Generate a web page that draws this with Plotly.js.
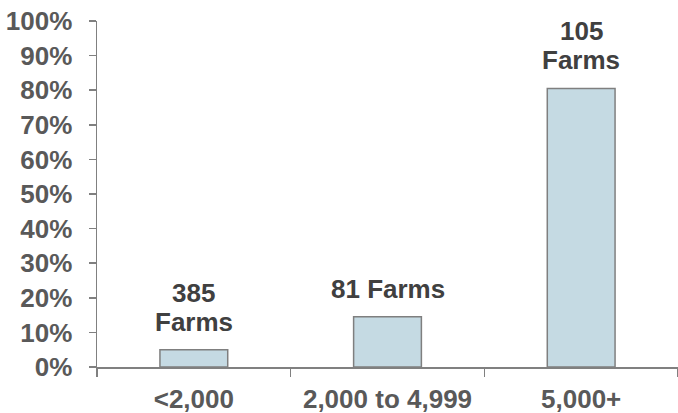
<!DOCTYPE html>
<html>
<head>
<meta charset="utf-8">
<script src="https://cdn.plot.ly/plotly-3.0.1.min.js"></script>
<style>html,body{margin:0;padding:0;background:#fff;}#chart{width:678px;height:413px;}</style>
</head>
<body>
<div id="chart"></div>
<script>
const categories = ["<2,000", "2,000 to 4,999", "5,000+"];
const shares = [0.05, 0.145, 0.805];
const barLabels = ["385<br>Farms", "81 Farms", "105<br>Farms"];
const yTickVals = [0, 0.1, 0.2, 0.3, 0.4, 0.5, 0.6, 0.7, 0.8, 0.9, 1.0];

const font = "Liberation Sans, Arial, sans-serif";
const fs = 26;

const trace = {
  type: "bar",
  x: categories,
  y: shares,
  width: 0.35,
  marker: { color: "#c5dae3", line: { color: "#7f7f7f", width: 1.5 } },
  hoverinfo: "skip"
};

const annotations = [];
categories.forEach((c, i) => {
  const lines = barLabels[i].split("<br>");
  lines.forEach((ln, k) => {
    annotations.push({
      x: c, y: shares[i], xref: "x", yref: "y",
      text: "<b>" + ln + "</b>",
      showarrow: false, yanchor: "bottom",
      yshift: 11 + (lines.length - 1 - k) * 29,
      font: { family: font, size: fs, color: "#404040" }
    });
  });
});

const layout = {
  width: 678, height: 413,
  margin: { l: 97, r: 0, t: 21, b: 46 },
  paper_bgcolor: "#fff", plot_bgcolor: "#fff",
  showlegend: false,
  xaxis: {
    type: "category", range: [-0.5, 2.5],
    showline: true, linecolor: "#808080", linewidth: 1.5,
    ticks: "outside", tickson: "boundaries", ticklen: 8, tickcolor: "#808080", tickwidth: 1.5,
    ticklabelstandoff: 8,
    showgrid: false, zeroline: false,
    tickfont: { family: font, size: fs, color: "#595959", weight: "bold" }
  },
  yaxis: {
    range: [0, 1], tickvals: yTickVals, tickformat: ".0%",
    showline: true, linecolor: "#808080", linewidth: 1.5,
    ticks: "outside", ticklen: 7, tickcolor: "#808080", tickwidth: 1.5,
    ticklabelstandoff: 11,
    showgrid: false, zeroline: false,
    tickfont: { family: font, size: fs, color: "#595959", weight: "bold" }
  },
  annotations: annotations
};

Plotly.newPlot("chart", [trace], layout, { staticPlot: true, displayModeBar: false });
</script>
</body>
</html>
